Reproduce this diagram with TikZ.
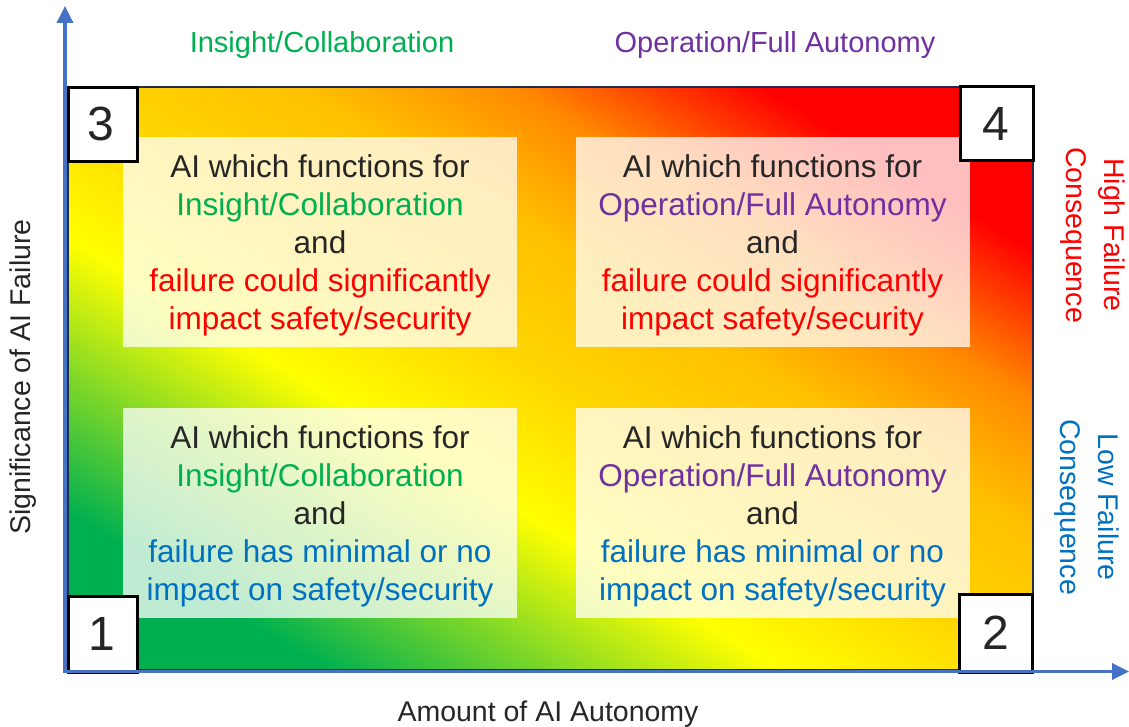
\documentclass[tikz,border=0pt]{standalone}
\usepackage{fontspec}
\setmainfont{Liberation Sans}
\usetikzlibrary{arrows.meta}
\definecolor{cgreen}{HTML}{00B050}
\definecolor{cred}{HTML}{FF0000}
\definecolor{cpurple}{HTML}{7030A0}
\definecolor{cblue}{HTML}{0070C0}
\definecolor{caxis}{HTML}{4472C4}
\definecolor{cnavy}{HTML}{1F2D50}
\definecolor{ctext}{HTML}{262626}
\definecolor{hc}{rgb}{0,0.69,0.314}
% colour of the heat field at position t (0 = bottom-left corner, 1 = top-right corner)
\newcommand\setheat[1]{%
  \pgfmathsetmacro\heatt{#1}%
  \ifdim\heatt pt<0.135pt
    \def\hcR{0}\def\hcG{0.69}\def\hcB{0.314}%
  \else\ifdim\heatt pt<0.37pt
    \pgfmathsetmacro\heatf{(\heatt-0.135)/0.235}%
    \pgfmathsetmacro\hcR{\heatf}\pgfmathsetmacro\hcG{0.69+0.31*\heatf}\pgfmathsetmacro\hcB{0.314*(1-\heatf)}%
  \else\ifdim\heatt pt<0.5pt
    \pgfmathsetmacro\heatf{(\heatt-0.37)/0.13}%
    \def\hcR{1}\pgfmathsetmacro\hcG{1-0.161*\heatf}\def\hcB{0}%
  \else\ifdim\heatt pt<0.62pt
    \pgfmathsetmacro\heatf{(\heatt-0.5)/0.12}%
    \def\hcR{1}\pgfmathsetmacro\hcG{0.839-0.086*\heatf}\def\hcB{0}%
  \else\ifdim\heatt pt<0.73pt
    \pgfmathsetmacro\heatf{(\heatt-0.62)/0.11}%
    \def\hcR{1}\pgfmathsetmacro\hcG{0.753-0.212*\heatf}\def\hcB{0}%
  \else\ifdim\heatt pt<0.86pt
    \pgfmathsetmacro\heatf{(\heatt-0.73)/0.13}%
    \def\hcR{1}\pgfmathsetmacro\hcG{0.541*(1-\heatf)}\def\hcB{0}%
  \else
    \def\hcR{1}\def\hcG{0}\def\hcB{0}%
  \fi\fi\fi\fi\fi\fi
  \definecolor{hc}{rgb}{\hcR,\hcG,\hcB}%
}
\tikzset{
  quadbox/.style={fill=white, fill opacity=0.75, inner sep=0pt,
    minimum width=394pt, minimum height=210pt},
  quadtext/.style={align=center, text=ctext, inner sep=0pt,
    font=\fontsize{31.5}{38}\selectfont},
  numbox/.style={draw=black, line width=3pt, fill=white},
  numtext/.style={text=ctext, font=\fontsize{48}{48}\selectfont, inner sep=0pt},
  axisline/.style={draw=caxis, line width=3.5pt, -{Triangle[width=16pt,length=17pt]}},
  toplabel/.style={font=\fontsize{29}{34}\selectfont, inner sep=0pt},
  sidelabel/.style={font=\fontsize{28.5}{37.5}\selectfont, align=center, rotate=-90, inner sep=0pt},
  axislabel/.style={font=\fontsize{28.5}{34}\selectfont, text=ctext, inner sep=0pt}
}
\begin{document}
\begin{tikzpicture}[x=1pt,y=-1pt]
\useasboundingbox (0,0) rectangle (1129,727);
% gradient field: strips parallel to the top-left / bottom-right diagonal
\begin{scope}
  \clip (68,87) rectangle (1033,670);
  \foreach \i in {0,...,359} {
    \pgfmathsetmacro\sa{\i/180}
    \pgfmathsetmacro\sb{(\i+1.7)/180}
    \setheat{(\i+0.5)/360}
    \fill[hc] ({68+965*(\sa+1)},1253) -- ({68+965*(\sb+1)},1253)
      -- ({68+965*(\sb-2)},-496) -- ({68+965*(\sa-2)},-496) -- cycle;
  }
\end{scope}
% quadrant boxes
\node[quadbox] (q3) at (320,242) {};
\node[quadbox] (q4) at (772.5,242) {};
\node[quadbox] (q1) at (320,513) {};
\node[quadbox] (q2) at (772.5,513) {};
\node[quadtext] (t3) at (320,245) {AI which functions for\\\textcolor{cgreen}{Insight/Collaboration}\\and\\\textcolor{cred}{failure could significantly}\\\textcolor{cred}{impact safety/security}};
\node[quadtext] (t4) at (772.5,245) {AI which functions for\\\textcolor{cpurple}{Operation/Full Autonomy}\\and\\\textcolor{cred}{failure could significantly}\\\textcolor{cred}{impact safety/security}};
\node[quadtext] (t1) at (320,516) {AI which functions for\\\textcolor{cgreen}{Insight/Collaboration}\\and\\\textcolor{cblue}{failure has minimal or no}\\\textcolor{cblue}{impact on safety/security}};
\node[quadtext] (t2) at (772.5,516) {AI which functions for\\\textcolor{cpurple}{Operation/Full Autonomy}\\and\\\textcolor{cblue}{failure has minimal or no}\\\textcolor{cblue}{impact on safety/security}};
% frame
\draw[cnavy, line width=1.5pt] (68,87) rectangle (1033,670);
% corner number boxes
\draw[numbox] (68.5,87.5) rectangle (137.5,161.5);
\node[numtext] (n3) at (101,124) {3};
\draw[numbox] (960.5,86.5) rectangle (1033.5,160.5);
\node[numtext] (n4) at (996,124) {4};
\draw[numbox] (68.5,596.5) rectangle (137.5,672);
\node[numtext] (n1) at (102,634) {1};
\draw[numbox] (959.5,594.5) rectangle (1032.5,672);
\node[numtext] (n2) at (996,633) {2};
% axes
\coordinate (O) at (65,671.5);
\coordinate (ytip) at (65,6);
\coordinate (xtip) at (1129,671.5);
\draw[axisline] (65,673) -- (ytip);
\draw[axisline] (63.5,671.5) -- (xtip);
% labels
\node[toplabel, text=cgreen] (lins) at (322,45.5) {Insight/Collaboration};
\node[toplabel, text=cpurple] (lop) at (775,45.5) {Operation/Full Autonomy};
\node[sidelabel, text=cred] (lhigh) at (1093,235) {High Failure\\Consequence};
\node[sidelabel, text=cblue] (llow) at (1087,507) {Low Failure\\Consequence};
\node[axislabel, rotate=90] (lsig) at (23,377) {Significance of AI Failure};
\node[axislabel] (laut) at (548,714) {Amount of AI Autonomy};
\end{tikzpicture}
\end{document}
